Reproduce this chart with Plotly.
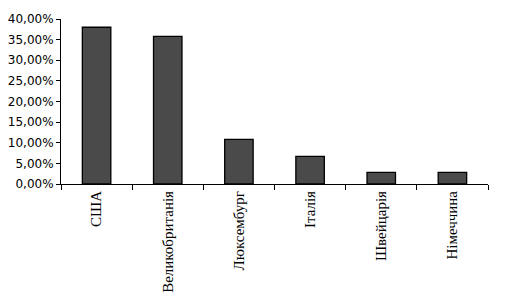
import plotly.graph_objects as go

countries = ["США", "Великобританія", "Люксембург", "Італія", "Швейцарія", "Німеччина"]
shares = [38.0, 35.8, 10.8, 6.7, 2.8, 2.8]
y_ticks = [0, 5, 10, 15, 20, 25, 30, 35, 40]
y_tick_labels = ["0,00%", "5,00%", "10,00%", "15,00%", "20,00%", "25,00%", "30,00%", "35,00%", "40,00%"]

fig = go.Figure(go.Bar(
    x=countries, y=shares, width=0.4,
    marker=dict(color="#4a4a4a", line=dict(color="black", width=1.3)),
))
fig.update_layout(
    width=515, height=296,
    margin=dict(l=61, r=27, t=19, b=112),
    paper_bgcolor="white", plot_bgcolor="white",
    showlegend=False,
    bargap=0.6,
)
fig.update_yaxes(
    range=[0, 40], tickvals=y_ticks, ticktext=y_tick_labels, automargin=False,
    showgrid=False, zeroline=False, showline=True, linecolor="black", linewidth=1,
    ticks="outside", ticklen=4, tickcolor="black",
    tickfont=dict(family="DejaVu Sans", size=12, color="black"),
)
fig.update_xaxes(
    tickangle=-90, tickson="boundaries", showgrid=False, automargin=False,
    showline=True, linecolor="black", linewidth=1,
    ticks="outside", ticklen=5, tickcolor="black",
    tickfont=dict(family="Liberation Serif", size=15, color="black"),
)
fig.write_html("out.html")
